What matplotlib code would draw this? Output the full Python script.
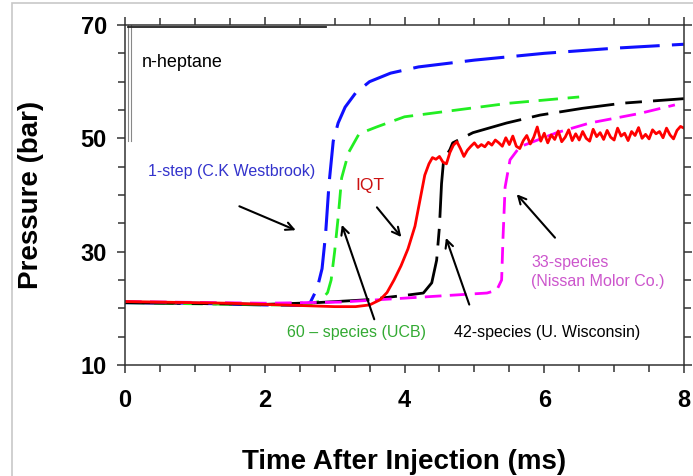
import matplotlib
matplotlib.use("Agg")
import matplotlib.pyplot as plt
from matplotlib.patches import Rectangle
from matplotlib.ticker import MultipleLocator, FixedLocator

plt.rcParams['font.family'] = ['Liberation Sans', 'DejaVu Sans']

# pressure traces, time in ms, pressure in bar
onestep_t = [0.0, 1.0, 2.0, 2.5, 2.65, 2.75, 2.82, 2.87, 2.92, 2.98, 3.05, 3.15,
             3.3, 3.5, 3.8, 4.2, 5.0, 6.0, 7.0, 8.0]
onestep_p = [21.0, 20.9, 20.6, 20.5, 21.0, 23.5, 27.0, 33.0, 42.0, 49.5, 52.7, 55.5,
             58.0, 60.0, 61.5, 62.6, 63.8, 65.0, 65.9, 66.6]

ucb_t = [0.0, 2.0, 2.6, 2.8, 2.9, 2.95, 3.0, 3.05, 3.1, 3.2, 3.35, 3.6, 4.0,
         4.75, 5.5, 6.5]
ucb_p = [21.0, 20.6, 20.6, 21.3, 22.8, 25.0, 30.0, 36.0, 43.0, 47.5, 50.8, 52.0, 53.8,
         55.0, 56.2, 57.3]

wisc_t = [0.0, 2.0, 2.74, 3.45, 4.08, 4.27, 4.39, 4.46, 4.5, 4.53, 4.56, 4.65,
          4.69, 4.98, 5.46, 5.94, 6.55, 7.12, 8.0]
wisc_p = [21.0, 20.7, 21.0, 21.5, 22.4, 22.7, 24.5, 28.5, 34.4, 42.0, 46.2, 48.0,
          49.2, 51.0, 52.7, 54.1, 55.3, 56.2, 57.0]

nissan_t = [0.0, 2.0, 3.08, 4.27, 5.18, 5.32, 5.39, 5.41, 5.44, 5.51, 5.65,
            6.18, 6.65, 7.37, 7.87]
nissan_p = [21.2, 20.9, 21.1, 22.0, 22.7, 23.2, 25.0, 32.5, 41.4, 46.2, 48.5,
            51.0, 52.7, 54.4, 55.9]

iqt_t = [0.0, 0.5, 1.0, 1.5, 2.0, 2.5, 3.0, 3.3, 3.5, 3.65, 3.75, 3.85, 3.95,
         4.05, 4.15, 4.22, 4.29, 4.35, 4.4, 4.45, 4.5, 4.55, 4.6, 4.65, 4.7,
         4.75, 4.8, 4.85, 4.9, 4.95, 5.0, 5.05, 5.1, 5.15, 5.2, 5.25, 5.3,
         5.35, 5.4, 5.45, 5.5, 5.55, 5.6, 5.65, 5.7, 5.75, 5.8, 5.85, 5.9,
         5.95, 6.0, 6.05, 6.1, 6.15, 6.2, 6.25, 6.3, 6.35, 6.4, 6.45, 6.5,
         6.55, 6.6, 6.65, 6.7, 6.75, 6.8, 6.85, 6.9, 6.95, 7.0, 7.05, 7.1,
         7.15, 7.2, 7.25, 7.3, 7.35, 7.4, 7.45, 7.5, 7.55, 7.6, 7.65, 7.7,
         7.75, 7.8, 7.85, 7.9, 7.95, 8.0]
iqt_p = [21.2, 21.1, 21.0, 20.9, 20.7, 20.5, 20.3, 20.3, 20.6, 21.5, 22.8, 25.0, 27.5,
         30.5, 34.5, 39.0, 43.5, 45.5, 46.6, 46.3, 46.8, 45.8, 45.5, 47.5, 48.8,
         49.4, 48.2, 46.8, 47.9, 48.6, 49.2, 48.4, 48.9, 48.5, 49.3, 48.8, 49.7,
         49.2, 48.6, 50.1, 48.9, 50.4, 48.6, 48.2, 49.6, 50.5, 49.0, 50.2, 52.0,
         49.5, 50.9, 49.2, 50.6, 49.8, 51.3, 49.4, 50.2, 51.5, 49.6, 50.8, 49.7,
         51.2, 50.0, 49.5, 51.6, 50.3, 51.0, 49.8, 51.4, 50.2, 49.7, 51.8, 50.4,
         50.9, 49.6, 51.2, 50.5, 51.9, 50.0, 50.7, 49.9, 51.5, 50.8, 51.2, 50.1,
         51.8, 50.6, 49.9, 51.4, 52.1, 51.8]

x_major = [0, 2, 4, 6, 8]
y_major = [10, 30, 50, 70]

fig = plt.figure(figsize=(6.93, 4.76), dpi=100)
fig.patches.append(Rectangle((12 / 693, -0.1), 1.0, 1.1 - 3 / 476,
                             transform=fig.transFigure, fill=False,
                             edgecolor='#c8c8c8', lw=1.2))
ax = fig.add_axes([0.1804, 0.2332, 0.8066, 0.7143])

ax.plot(onestep_t, onestep_p, color='#1010ff', lw=2.2, dashes=(13, 4))
ax.plot(ucb_t, ucb_p, color='#22ee22', lw=2.0, dashes=(7, 3.5))
ax.plot(wisc_t, wisc_p, color='black', lw=2.0, dashes=(20, 4, 6, 4))
ax.plot(nissan_t, nissan_p, color='#ff00ff', lw=2.0, dashes=(6, 3))
ax.plot(iqt_t, iqt_p, color='#ff0000', lw=2.0)

ax.set_xlim(0, 8)
ax.set_ylim(10, 70)
ax.xaxis.set_major_locator(FixedLocator(x_major))
ax.xaxis.set_minor_locator(MultipleLocator(0.5))
ax.yaxis.set_major_locator(FixedLocator(y_major))
ax.yaxis.set_minor_locator(MultipleLocator(5))
ax.set_xticklabels([str(v) for v in x_major])
ax.set_yticklabels([str(v) for v in y_major])
ax.tick_params(which='both', direction='out', top=True, right=True,
               color='#333333', width=1.1)
ax.tick_params(which='major', length=6)
ax.tick_params(which='minor', length=5)
ax.tick_params(axis='x', which='major', pad=11)
ax.tick_params(axis='y', which='major', pad=7)
for lab in ax.get_xticklabels() + ax.get_yticklabels():
    lab.set_fontsize(17)
    lab.set_fontweight('bold')
for sp in ax.spines.values():
    sp.set_color('#333333')
    sp.set_linewidth(1.1)

ax.set_xlabel('Time After Injection (ms)', fontsize=20, fontweight='bold', labelpad=27)
ax.set_ylabel('Pressure (bar)', fontsize=20, fontweight='bold', labelpad=26)

# inner frame edge near the top-left corner
ax.plot([0.005, 0.005], [1.0, 0.66], transform=ax.transAxes, color='#888888',
        lw=0.8, clip_on=False)
ax.plot([0.010, 0.010], [1.0, 0.66], transform=ax.transAxes, color='#888888',
        lw=0.8, clip_on=False)
ax.plot([0.005, 0.36], [0.995, 0.995], transform=ax.transAxes, color='#222222',
        lw=1.3, clip_on=False)

ax.text(0.24, 63.3, 'n-heptane', fontsize=13, va='center', ha='left')

arrow = dict(arrowstyle='->', color='black', lw=1.5, mutation_scale=14)
ax.annotate('', xy=(2.48, 33.6), xytext=(1.60, 38.2), arrowprops=arrow)
ax.annotate('', xy=(3.98, 32.2), xytext=(3.58, 38.2), arrowprops=arrow)
ax.annotate('', xy=(3.09, 35.2), xytext=(3.58, 17.6), arrowprops=arrow)
ax.annotate('', xy=(4.58, 32.9), xytext=(4.94, 20.2), arrowprops=arrow)
ax.annotate('', xy=(5.58, 40.5), xytext=(6.18, 32.1), arrowprops=arrow)

ax.text(1.52, 44.1, '1-step (C.K Westbrook)', color='#3333cc', fontsize=11.5,
        ha='center', va='center')
ax.text(3.51, 41.6, 'IQT', color='#cc1111', fontsize=12.5, ha='center', va='center')
ax.text(3.31, 15.8, '60 – species (UCB)', color='#33aa33', fontsize=11.5,
        ha='center', va='center')
ax.text(6.04, 15.8, '42-species (U. Wisconsin)', color='black', fontsize=11.5,
        ha='center', va='center')
ax.text(5.81, 26.4, '33-species\n(Nissan Molor Co.)', color='#cc55cc', fontsize=11.5,
        ha='left', va='center', linespacing=1.3)

fig.savefig('out.png', dpi=100)
